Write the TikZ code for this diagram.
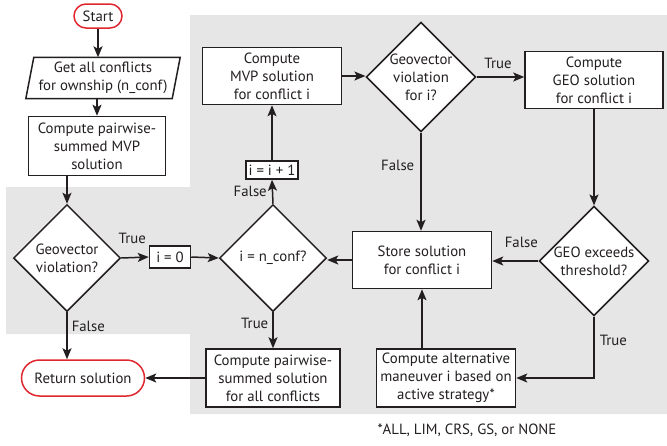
\documentclass[tikz,border=0pt]{standalone}
\usepackage{fontspec}
\setmainfont{PT Sans}
\usetikzlibrary{shapes.geometric,arrows.meta,calc}
\definecolor{ink}{HTML}{231F20}
\definecolor{bggray}{HTML}{E6E6E6}
\definecolor{termred}{HTML}{E0262E}
\tikzset{
  every node/.style={font=\fontsize{14.8}{18}\selectfont, text=ink},
  proc/.style={draw=ink, line width=1.5pt, fill=white, align=center, inner sep=0pt},
  term/.style={draw=termred, line width=1.5pt, fill=white, rounded corners=12pt, inner sep=0pt},
  dec/.style={draw=ink, line width=1.5pt, fill=white, diamond, aspect=1, inner sep=0pt, align=center},
  conn/.style={draw=ink, line width=1.5pt, -{Stealth[length=11pt,width=9pt,inset=2.5pt]}},
  lbl/.style={inner sep=0pt}
}
\begin{document}
\begin{tikzpicture}[x=1pt,y=-1pt]
\useasboundingbox (0,0) rectangle (667,445);
% gray background
\fill[bggray] (190,15) -- (667,15) -- (667,414) -- (190,414) -- (190,334) -- (6,334) -- (6,187) -- (190,187) -- cycle;

% nodes
\node[term, minimum width=48, minimum height=24] (start) at (98,16) {Start};
\node[align=center, minimum width=152, minimum height=41, inner sep=0pt] (get) at (103,78) {Get all conflicts\\for ownship (n\_conf)};
\draw[ink, line width=1.5pt, fill=white] ($(get.south west)+(-1,0)$) -- ($(get.north west)+(7,0)$) -- ($(get.north east)+(1,0)$) -- ($(get.south east)+(-7,0)$) -- cycle;
\node[align=center, minimum width=152, minimum height=41, inner sep=0pt] at (get) {Get all conflicts\\for ownship (n\_conf)};
\node[proc, minimum width=137, minimum height=59] (pw) at (97,146) {Compute pairwise-\\summed MVP\\solution};
\node[dec, minimum width=107, minimum height=107] (gv1) at (67,258) {Geovector\\violation?};
\node[proc, minimum width=41, minimum height=22] (i0) at (170,257) {i = 0};
\node[dec, minimum width=107, minimum height=107] (ic) at (273,258) {i = n\_conf?};
\node[term, minimum width=123, minimum height=36, rounded corners=18pt] (ret) at (83,378) {Return solution};
\node[proc, minimum width=134, minimum height=58] (sumall) at (273,378) {Compute pairwise-\\summed solution\\for all conflicts};
\node[proc, minimum width=52, minimum height=18] (inc) at (272,170) {i = i + 1};
\node[proc, minimum width=139, minimum height=57] (mvp) at (272,76) {Compute\\MVP solution\\for conflict i};
\node[dec, minimum width=107, minimum height=108] (gv2) at (421,77) {Geovector\\violation\\for i?};
\node[proc, minimum width=138, minimum height=57] (geo) at (594,80) {Compute\\GEO solution\\for conflict i};
\node[proc, minimum width=139, minimum height=57] (store) at (422,260) {Store solution\\for conflict i};
\node[dec, minimum width=108, minimum height=108] (ge) at (594,261) {GEO exceeds\\threshold?};
\node[proc, minimum width=139, minimum height=58] (alt) at (446,378) {Compute alternative\\maneuver i based on\\active strategy*};
\node (foot) at (467,430) {*ALL, LIM, CRS, GS, or NONE};

% connectors
\draw[conn] (start.south) -- (start.south |- get.north);
\draw[conn] (pw.north |- get.south) -- (pw.north);
\draw[conn] (gv1.north |- pw.south) -- (gv1.north);
\draw[conn] (gv1.east) -- (i0.west) node[lbl, pos=0.4, above=13pt] (t1) {True};
\draw[conn] (i0.east) -- (ic.west);
\draw[conn] (gv1.south) -- (gv1.south |- ret.north) node[lbl, pos=0.3, right=4pt] (f1) {False};
\draw[conn] (ic.south) -- (sumall.north) node[lbl, pos=0.3, left=4pt] (t2) {True};
\draw[conn] (ic.north) -- (inc.south) node[lbl, pos=0.5, left=5pt] (f2) {False};
\draw[conn] (inc.north) -- (mvp.south);
\draw[conn] (mvp.east) -- (mvp.east -| gv2.west);
\draw[conn] (gv2.east) -- (gv2.east -| geo.west) node[lbl, pos=0.45, above=8pt] (t3) {True};
\draw[conn] (geo.south) -- (ge.north);
\draw[conn] (gv2.south) -- (gv2.south |- store.north) node[lbl, pos=0.33, left=6pt] (f3) {False};
\draw[conn] (ge.west) -- (ge.west -| store.east) node[lbl, pos=0.37, above=13pt] (f4) {False};
\draw[conn] (ge.south) |- (alt.east) node[lbl, pos=0.19, right=5pt] (t4) {True};
\draw[conn] (store.south |- alt.north) -- (store.south);
\draw[conn] (store.west) -- (store.west -| ic.east);
\draw[conn] (sumall.west) -- (sumall.west -| ret.east);
\end{tikzpicture}
\end{document}
